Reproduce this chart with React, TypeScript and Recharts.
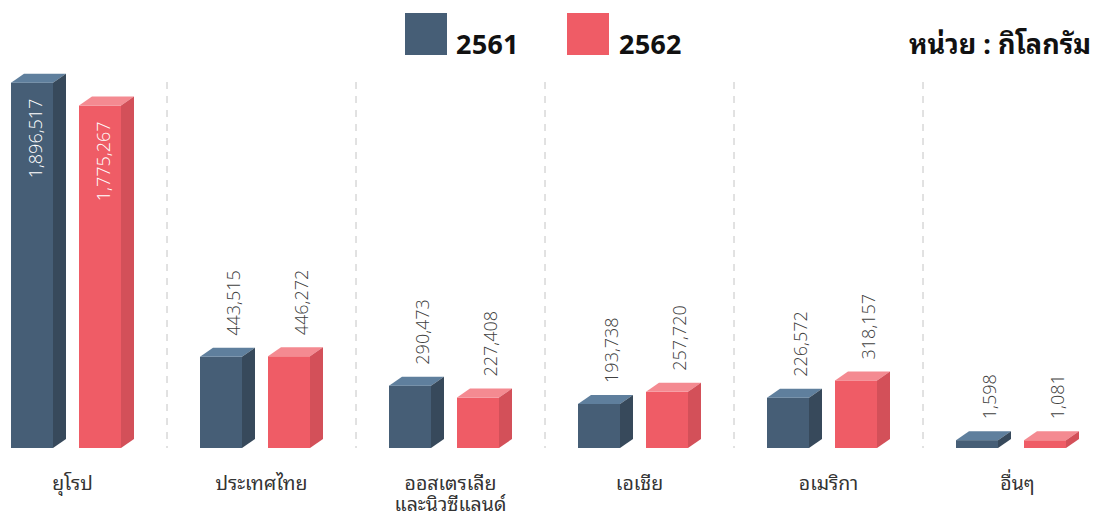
import { BarChart, Bar, XAxis, YAxis, CartesianGrid, LabelList } from "recharts";

const categories = ["ยุโรป", "ประเทศไทย", "ออสเตรเลีย\nและนิวซีแลนด์", "เอเชีย", "อเมริกา", "อื่นๆ"];
const values2561 = [1896517, 443515, 290473, 193738, 226572, 1598];
const values2562 = [1775267, 446272, 227408, 257720, 318157, 1081];
const seriesNames = ["2561", "2562"];
const unitLabel = "หน่วย : กิโลกรัม";

const data = categories.map((name, i) => ({ name, a: values2561[i], b: values2562[i] }));

const THAI = '"Noto Sans Thai Looped", "Noto Sans Thai", "Noto Sans", Tahoma, sans-serif';
const DX = 13;
const DY = 9;

const palette = [
  { front: "#465e76", top: "#5f7f9d", side: "#37495b" },
  { front: "#ef5c66", top: "#f48a91", side: "#d35059" },
];

function Box3D(props: any, c: { front: string; top: string; side: string }) {
  const { x, y, width, height, background } = props;
  const bottom = background ? background.y + background.height : y + height;
  const fw = width - DX;
  return (
    <g>
      <rect x={x} y={y} width={fw} height={bottom - y} fill={c.front} />
      <polygon points={`${x},${y} ${x + DX},${y - DY} ${x + width},${y - DY} ${x + fw},${y}`} fill={c.top} />
      <polygon
        points={`${x + fw},${y} ${x + width},${y - DY} ${x + width},${bottom - DY} ${x + fw},${bottom}`}
        fill={c.side}
      />
    </g>
  );
}

function ValueLabel(props: any) {
  const { x, y, value } = props;
  const inside = value > 1000000;
  const cx = inside ? x + 24 : x + 33;
  const cy = inside ? y + 16 : y - 21;
  return (
    <text
      x={cx}
      y={cy}
      transform={`rotate(-90 ${cx} ${cy})`}
      textAnchor={inside ? "end" : "start"}
      dominantBaseline="central"
      fill={inside ? "#ffffff" : "#404040"}
      fontSize={18}
      fontFamily='"Open Sans", sans-serif'
      fontWeight={300}
    >
      {Number(value).toLocaleString("en-US")}
    </text>
  );
}

function CategoryTick(props: any) {
  const { x, y, payload } = props;
  const lines = String(payload.value).split("\n");
  return (
    <g>
      {lines.map((l, i) => (
        <text key={i} x={x} y={y + 34 + i * 21} textAnchor="middle" fill="#333" fontSize={19.5} fontFamily={THAI}>
          {l}
        </text>
      ))}
    </g>
  );
}

function LegendBox() {
  return (
    <div style={{ position: "absolute", left: 0, top: 0, width: 1134, height: 60, fontFamily: THAI }}>
      {seriesNames.map((s, i) => (
        <div key={s}>
          <div
            style={{
              position: "absolute",
              left: 427 + i * 162,
              top: 13,
              width: 42,
              height: 42,
              background: palette[i].front,
            }}
          />
          <div
            style={{
              position: "absolute",
              left: 478 + i * 163,
              top: 24,
              fontSize: 27,
              fontWeight: 700,
              lineHeight: "36px",
              color: "#111",
            }}
          >
            {s}
          </div>
        </div>
      ))}
      <div
        style={{
          position: "absolute",
          right: 21,
          top: 24,
          fontSize: 27,
          fontWeight: 700,
          lineHeight: "36px",
          color: "#111",
          whiteSpace: "nowrap",
        }}
      >
        {unitLabel}
      </div>
    </div>
  );
}

export default function App() {
  return (
    <div style={{ position: "fixed", left: 0, top: 0, width: 1101, height: 515, overflow: "hidden", background: "#fff" }}>
      <div style={{ position: "absolute", left: -22, top: 0, width: 1134, height: 515 }}>
        <LegendBox />
        <BarChart
          width={1134}
          height={515}
          data={data}
          margin={{ top: 82, right: 0, left: 0, bottom: 0 }}
          barSize={55}
          barGap={13}
        >
          <CartesianGrid
            horizontal={false}
            stroke="#c4c4c4"
            strokeDasharray="7 7"
            verticalCoordinatesGenerator={({ offset }: any) =>
              categories.slice(1).map((_, i) => offset.left + ((i + 1) * offset.width) / categories.length)
            }
          />
          <XAxis dataKey="name" height={67} axisLine={false} tickLine={false} tick={<CategoryTick />} interval={0} />
          <YAxis hide domain={[-40000, 1900000]} />
          <Bar dataKey="a" name={seriesNames[0]} isAnimationActive={false} shape={(p: any) => Box3D(p, palette[0])}>
            <LabelList dataKey="a" content={<ValueLabel />} />
          </Bar>
          <Bar dataKey="b" name={seriesNames[1]} isAnimationActive={false} shape={(p: any) => Box3D(p, palette[1])}>
            <LabelList dataKey="b" content={<ValueLabel />} />
          </Bar>
        </BarChart>
      </div>
    </div>
  );
}
